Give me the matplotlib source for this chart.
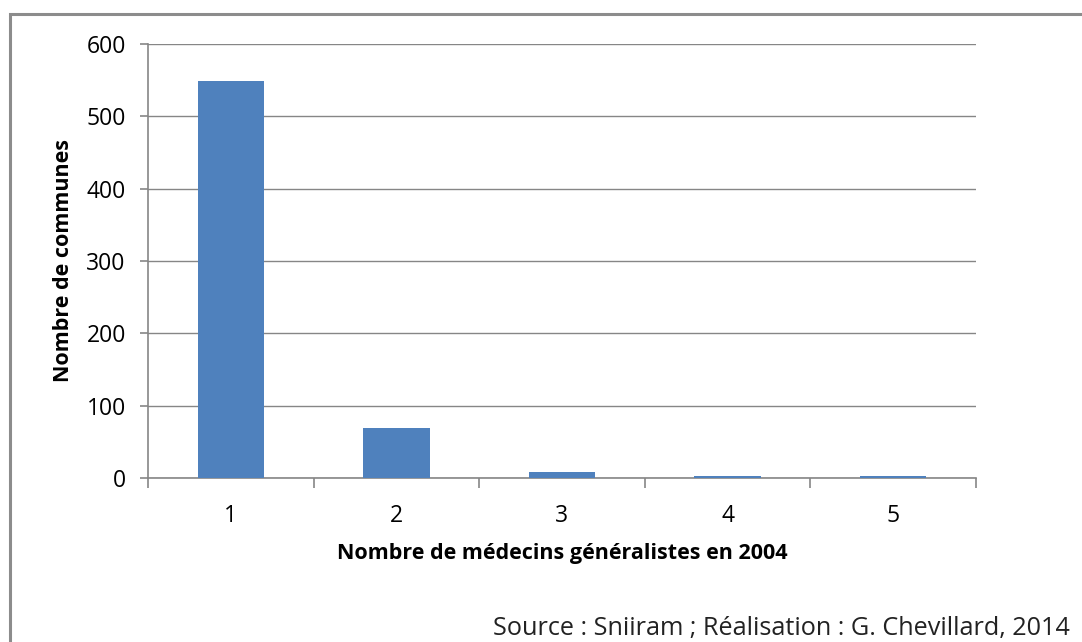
import matplotlib.pyplot as plt
from matplotlib.patches import Rectangle
import numpy as np

plt.rcParams['font.family'] = ['Open Sans', 'DejaVu Sans']

categories = ['1', '2', '3', '4', '5']
counts = [549, 69, 8, 3, 3]
yticks = [0, 100, 200, 300, 400, 500, 600]

W, H = 1082, 642
fig = plt.figure(figsize=(W / 100, H / 100), dpi=100)

# outer frame of the Excel chart area (runs off right and bottom)
fig.patches.append(Rectangle((10 / W, -0.05), 1.1, 1 - 14 / H + 0.05,
                             transform=fig.transFigure, fill=False,
                             edgecolor='#8c8c8c', linewidth=2.2))

ax = fig.add_axes([148 / W, 1 - 478 / H, (976 - 148) / W, (478 - 44) / H])
x = np.arange(1, len(categories) + 1)
ax.bar(x, counts, width=0.4, color='#4F81BD', zorder=3)

ax.set_xlim(0.5, len(categories) + 0.5)
ax.set_ylim(0, 600)
ax.set_yticks(yticks)
ax.set_yticklabels([str(t) for t in yticks])
ax.set_xticks(x)
ax.set_xticklabels(categories)
ax.set_xticks(np.arange(0.5, len(categories) + 1), minor=True)
ax.tick_params(axis='x', which='major', length=0, pad=18.5, labelsize=16.5)
ax.tick_params(axis='x', which='minor', length=7, color='#868686', width=1.2)
ax.tick_params(axis='y', length=6, color='#868686', width=1.2, pad=10, labelsize=16.5)

ax.grid(axis='y', color='#868686', linewidth=1.0, zorder=0)
for s in ['top', 'right']:
    ax.spines[s].set_visible(False)
for s in ['left', 'bottom']:
    ax.spines[s].set_color('#868686')
    ax.spines[s].set_linewidth(1.2)

ax.set_xlabel('Nombre de médecins généralistes en 2004', fontsize=15.5,
              fontweight='bold', labelpad=11)
ax.set_ylabel('Nombre de communes', fontsize=15.5, fontweight='bold', labelpad=9)

fig.text(1070 / W, 1 - 628 / H, 'Source : Sniiram ; Réalisation : G. Chevillard, 2014',
         ha='right', va='center', fontsize=18.2, color='#222222')

fig.savefig('out.png', dpi=100)
